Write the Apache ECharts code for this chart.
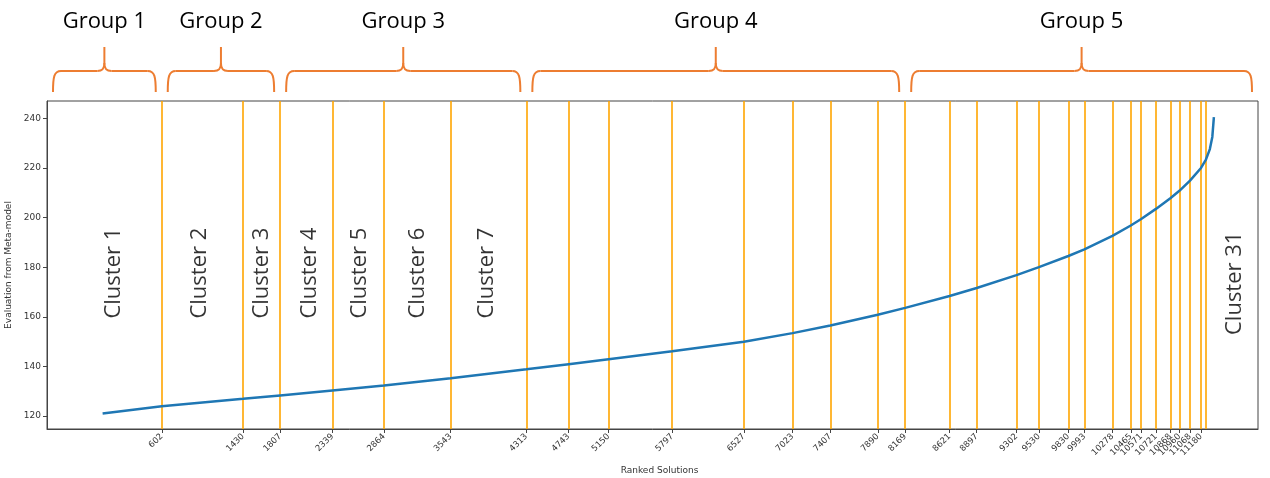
<!DOCTYPE html>
<html>
<head>
<meta charset="utf-8">
<script src="https://cdn.jsdelivr.net/npm/echarts@6/dist/echarts.min.js"></script>
<style>
  html, body { margin: 0; padding: 0; background: #fff; }
  #chart { width: 1270px; height: 478px; }
</style>
</head>
<body>
<div id="chart"></div>
<script>
// Ranked solutions and their meta-model evaluation (sorted ascending)
const rankX = [0, 602, 1430, 1807, 2339, 2864, 3543, 4313, 4743, 5150, 5797, 6527, 7023, 7407,
  7890, 8169, 8621, 8897, 9302, 9530, 9830, 9993, 10278, 10465, 10571, 10721, 10868, 10960,
  11068, 11180, 11230, 11270, 11295, 11311];
const evalY = [121.0, 123.9, 126.9, 128.3, 130.3, 132.3, 135.2, 138.8, 140.9, 142.9, 146.1, 149.9,
  153.4, 156.5, 160.8, 163.6, 168.4, 171.6, 176.8, 180.0, 184.5, 187.2, 192.6, 196.8, 199.4,
  203.5, 207.8, 210.8, 214.9, 220.0, 223.4, 227.6, 232.5, 240.5];

// Cluster boundaries (also used as x tick labels)
const clusterBounds = [602, 1430, 1807, 2339, 2864, 3543, 4313, 4743, 5150, 5797, 6527, 7023,
  7407, 7890, 8169, 8621, 8897, 9302, 9530, 9830, 9993, 10278, 10465, 10571, 10721, 10868,
  10960, 11068, 11180, 11230];

// Cluster names and where they are written
const clusterNames = ['Cluster 1', 'Cluster 2', 'Cluster 3', 'Cluster 4', 'Cluster 5',
  'Cluster 6', 'Cluster 7', 'Cluster 31'];
const clusterNameX = [110, 988, 1620, 2109, 2618, 3208, 3910, 11526];
const clusterNameY = [177.6, 177.6, 177.6, 177.6, 177.6, 177.6, 177.6, 173.5];

// Groups of clusters, bounded by these ranks
const groupNames = ['Group 1', 'Group 2', 'Group 3', 'Group 4', 'Group 5'];
const groupEdges = [-566, 602, 1807, 4313, 8169, 11760];

const yTicks = [120, 140, 160, 180, 200, 220, 240];

const X_MIN = -566, X_MAX = 11760, Y_MIN = 114.75, Y_MAX = 247;
const tickFont = 'DejaVu Sans';
const annoFont = 'Open Sans';

const chart = echarts.init(document.getElementById('chart'), null, { renderer: 'canvas' });

const curve = rankX.map((x, i) => [x, evalY[i]]);
const clusterLabels = clusterNames.map((n, i) => ({ value: [clusterNameX[i], clusterNameY[i]], name: n }));

chart.setOption({
  animation: false,
  backgroundColor: '#ffffff',
  grid: {
    left: 47, right: 12, top: 101, bottom: 49,
    outerBoundsMode: 'none', containLabel: false,
    show: true, borderColor: '#444', borderWidth: 1, backgroundColor: 'transparent'
  },
  xAxis: {
    type: 'value', min: X_MIN, max: X_MAX,
    name: 'Ranked Solutions', nameLocation: 'middle', nameGap: 37,
    nameTextStyle: { fontFamily: tickFont, fontSize: 9, color: '#333', padding: [0, 0, 0, 14] },
    axisLine: { show: true, onZero: false, lineStyle: { color: '#444', width: 1 } },
    axisTick: { show: true, customValues: clusterBounds, length: 4, lineStyle: { color: '#444' } },
    axisLabel: {
      customValues: clusterBounds, rotate: 45, fontFamily: tickFont, fontSize: 8.5,
      color: '#333', margin: 6, formatter: v => String(v)
    },
    splitLine: { show: false }
  },
  yAxis: {
    type: 'value', min: Y_MIN, max: Y_MAX,
    name: 'Evaluation from Meta-model', nameLocation: 'middle', nameGap: 28,
    nameTextStyle: { fontFamily: tickFont, fontSize: 9, color: '#333' },
    axisLine: { show: true, onZero: false, lineStyle: { color: '#444', width: 1 } },
    axisTick: { show: true, customValues: yTicks, length: 4, lineStyle: { color: '#444' } },
    axisLabel: {
      customValues: yTicks, fontFamily: tickFont, fontSize: 9, color: '#333', margin: 6,
      formatter: v => String(v)
    },
    splitLine: { show: false }
  },
  series: [
    {
      type: 'line',
      data: curve,
      showSymbol: false,
      smooth: false,
      lineStyle: { color: '#1f77b4', width: 2.5 },
      z: 3,
      markLine: {
        silent: true,
        symbol: ['none', 'none'],
        label: { show: false },
        lineStyle: { color: '#ffa500', width: 1.6, type: 'solid' },
        data: clusterBounds.map(v => ({ xAxis: v })),
        z: 2
      }
    },
    {
      type: 'scatter',
      data: clusterLabels,
      symbolSize: 0,
      silent: true,
      label: {
        show: true, position: 'inside', rotate: 90,
        formatter: p => p.name,
        fontFamily: annoFont, fontSize: 22, color: '#000'
      },
      z: 4
    }
  ]
});

// Curly braces and group names above the plot
const braceStyle = { stroke: '#ed7d31', lineWidth: 2, fill: null };
function braceParts(x1, x2, barY, endY, tipY) {
  const xm = (x1 + x2) / 2;
  const seg = (a, b, c, d) => ({ type: 'line', silent: true, shape: { x1: a, y1: b, x2: c, y2: d }, style: braceStyle });
  const curveEl = (a, b, c1x, c1y, c2x, c2y, c, d) => ({
    type: 'bezierCurve', silent: true,
    shape: { x1: a, y1: b, cpx1: c1x, cpy1: c1y, cpx2: c2x, cpy2: c2y, x2: c, y2: d },
    style: braceStyle
  });
  return [
    curveEl(x1, endY, x1, barY + 6, x1 + 1, barY, x1 + 8, barY),
    seg(x1 + 8, barY, xm - 7, barY),
    curveEl(xm - 7, barY, xm - 2, barY, xm, barY - 2, xm, barY - 8),
    seg(xm, barY - 8, xm, tipY),
    curveEl(xm, barY - 8, xm, barY - 2, xm + 2, barY, xm + 7, barY),
    seg(xm + 7, barY, x2 - 8, barY),
    curveEl(x2 - 8, barY, x2 - 1, barY, x2, barY + 6, x2, endY)
  ];
}

const gap = 6;
const graphics = [];
groupNames.forEach((g, i) => {
  const a = chart.convertToPixel({ xAxisIndex: 0 }, groupEdges[i]) + gap;
  const b = chart.convertToPixel({ xAxisIndex: 0 }, groupEdges[i + 1]) - gap;
  braceParts(a, b, 71, 92, 47).forEach(el => graphics.push(el));
  graphics.push({
    type: 'text',
    x: (a + b) / 2, y: 22,
    silent: true,
    style: {
      text: g, font: '22px "Open Sans"', fill: '#000',
      textAlign: 'center', textVerticalAlign: 'middle'
    }
  });
});
chart.setOption({ graphic: { elements: graphics } });
</script>
</body>
</html>
